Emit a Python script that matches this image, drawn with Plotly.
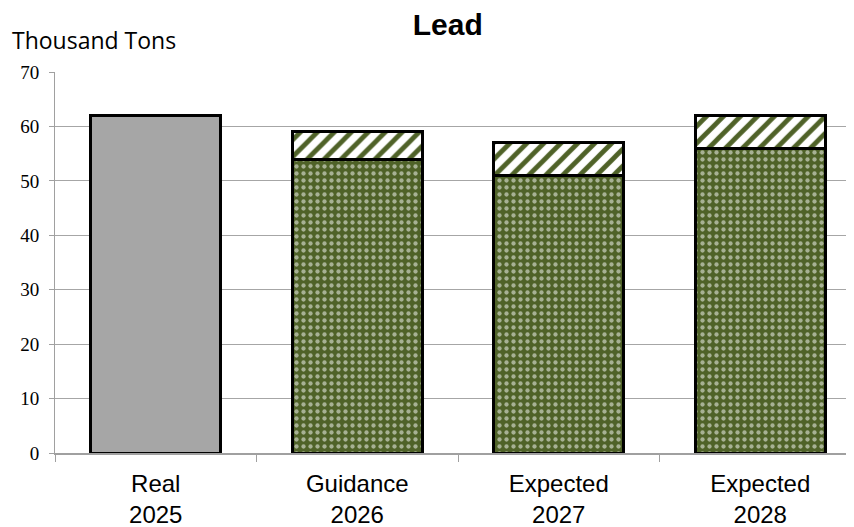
import plotly.graph_objects as go

categories = ["Real<br>2025", "Guidance<br>2026", "Expected<br>2027", "Expected<br>2028"]
real_vals = [62, None, None, None]
base_vals = [None, 54, 51, 56]
range_vals = [None, 5, 6, 6]

olive = "#4F6228"

fig = go.Figure()

# grey bar for the actual year
fig.add_trace(go.Bar(
    x=categories, y=real_vals,
    marker=dict(color="#A6A6A6", line=dict(color="black", width=3)),
    name="Real"))

# dotted olive base
fig.add_trace(go.Bar(
    x=categories, y=base_vals,
    marker=dict(color=olive, line=dict(color="black", width=3),
                pattern=dict(shape=".", fgcolor="white", bgcolor=olive,
                             size=7, solidity=0.3, fillmode="overlay")),
    name="Base"))

# hatched range on top
fig.add_trace(go.Bar(
    x=categories, y=range_vals,
    marker=dict(color="white", line=dict(color="black", width=3),
                pattern=dict(shape="/", fgcolor=olive, bgcolor="white",
                             size=12, solidity=0.4, fillmode="replace")),
    name="Range"))

# page body adds 8px margin, so margins are shifted to compensate
fig.update_layout(
    barmode="stack",
    bargap=0.355,
    showlegend=False,
    width=854, height=527,
    margin=dict(l=47, r=1, t=64, b=82),
    plot_bgcolor="white", paper_bgcolor="white",
    title=dict(text="<b>Lead</b>", x=0.515, xanchor="center", y=0.968, yanchor="middle",
               font=dict(family="Liberation Sans", size=30, color="black")),
)

fig.add_annotation(text="Thousand Tons", xref="paper", yref="paper",
                   x=-0.0558, y=1.084, xanchor="left", yanchor="middle",
                   showarrow=False, font=dict(family="Open Sans", size=23, color="black"))

fig.update_yaxes(range=[0, 70], dtick=10, showgrid=True, gridcolor="#A6A6A6", gridwidth=1,
                 showline=True, linecolor="#A0A0A0", linewidth=1,
                 ticks="outside", ticklen=5, tickcolor="#A0A0A0",
                 ticklabelstandoff=6,
                 tickfont=dict(family="Liberation Serif", size=19, color="black"),
                 zeroline=False)
fig.update_xaxes(showline=True, linecolor="#A0A0A0", linewidth=2,
                 ticks="outside", tickson="boundaries", ticklen=7, tickcolor="#A0A0A0",
                 ticklabelstandoff=8,
                 tickfont=dict(family="Liberation Sans", size=24, color="black"))

fig.write_html("out.html")
